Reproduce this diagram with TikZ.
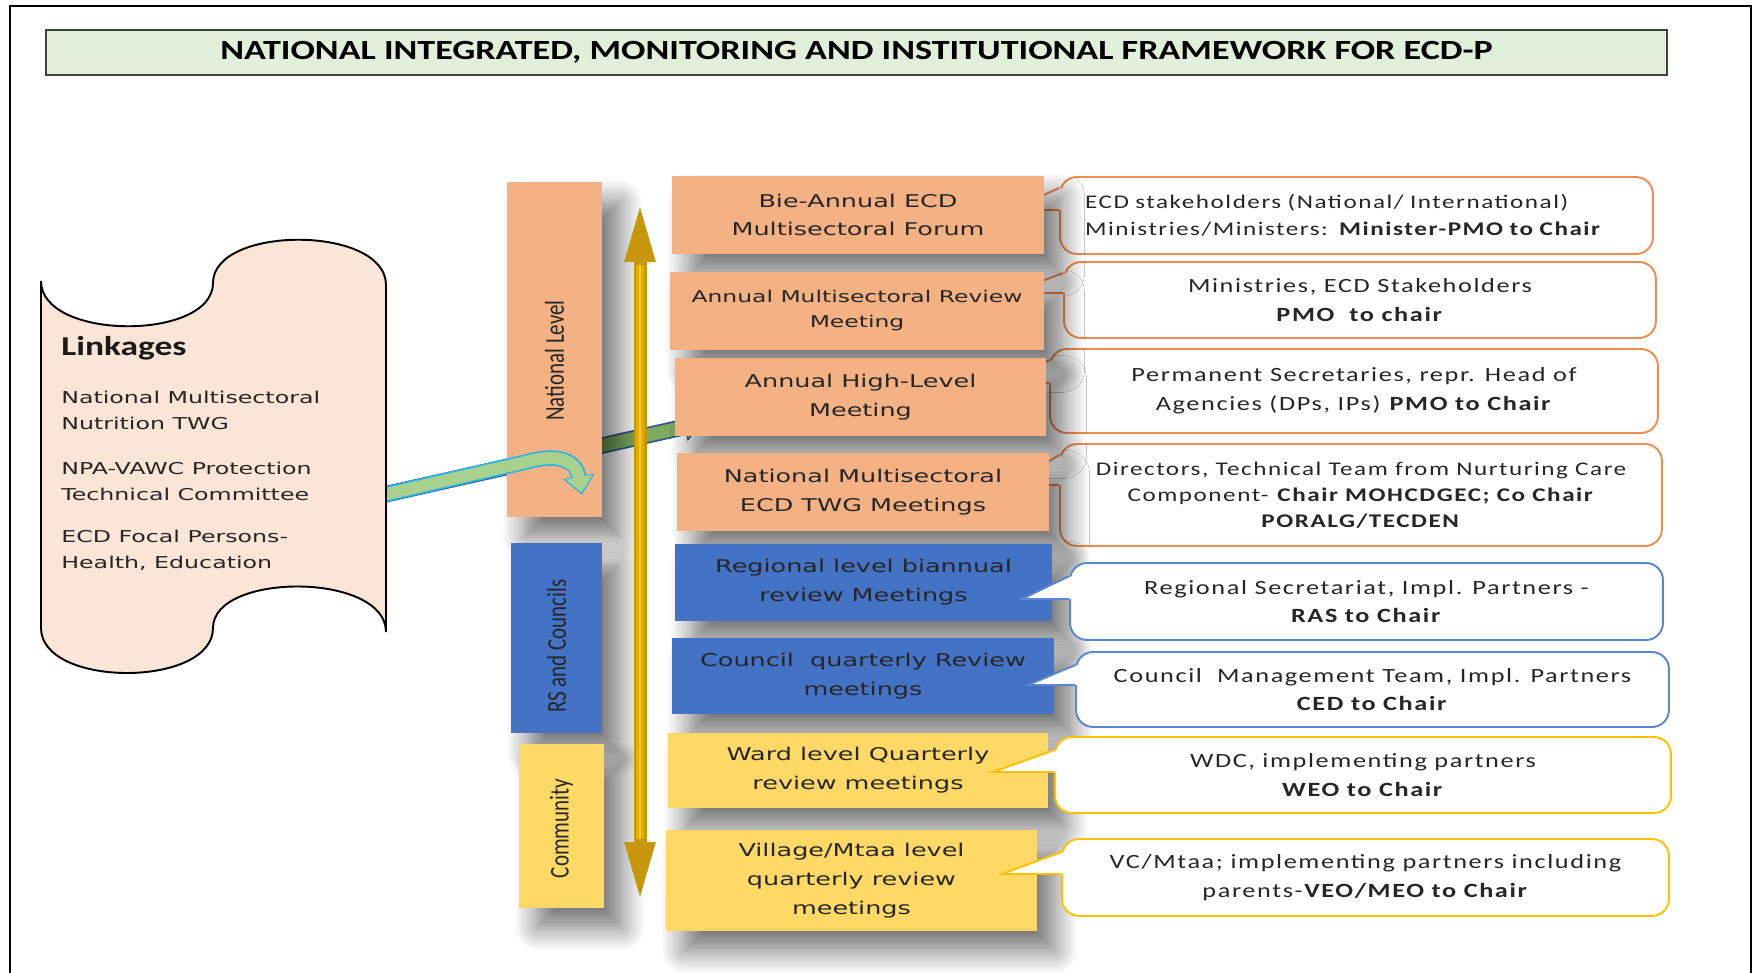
\documentclass[tikz,border=0pt]{standalone}
\usepackage{fontspec}
\usetikzlibrary{arrows.meta,calc,shadows.blur}

\newfontfamily\boxfont[FakeStretch=1.45]{DejaVu Sans}
\newfontfamily\callfont[FakeStretch=1.3,LetterSpace=8]{Carlito}
\newfontfamily\headfont[FakeStretch=1.3]{Carlito}
\newfontfamily\barfont[FakeStretch=0.77]{Carlito}

\definecolor{salmon}{HTML}{F4B183}
\definecolor{levelblue}{HTML}{4472C4}
\definecolor{levelyellow}{HTML}{FFD966}
\definecolor{linkfill}{HTML}{FBE5D6}
\definecolor{titlefill}{HTML}{E2EFDA}
\definecolor{callorange}{HTML}{F08C50}
\definecolor{callblue}{HTML}{5B86D0}
\definecolor{callyellow}{HTML}{FFC000}
\definecolor{goldedge}{HTML}{C8960A}
\definecolor{goldmid}{HTML}{E3AE00}
\definecolor{goldlight}{HTML}{F5CB2A}
\definecolor{leafgreen}{HTML}{A9D18E}
\definecolor{darkleaf}{HTML}{7DAA5E}
\definecolor{skyline}{HTML}{2EB5E8}
\definecolor{navyline}{HTML}{2F5597}

\tikzset{
  softshadow/.style={blur shadow={shadow xshift=0.36cm, shadow yshift=-0.4cm,
      shadow blur radius=0.45cm, shadow blur steps=14, shadow opacity=55}},
}

\begin{document}
\begin{tikzpicture}[x=0.02cm, y=-0.02cm,
  titlebox/.style={draw=black!75, line width=1.1pt, fill=titlefill, inner sep=0pt,
    minimum width=32.42cm, minimum height=0.9cm,
    font={\headfont\bfseries\fontsize{15.8}{18}\selectfont}},
  levelbar/.style={inner sep=0pt, softshadow},
  barlabel/.style={rotate=90, inner sep=0pt, text=black!85,
    font={\barfont\fontsize{15.5}{18}\selectfont}},
  meetbox/.style={inner sep=0pt, align=center, minimum height=1.56cm, text=black!85,
    font={\boxfont\fontsize{10}{16.4}\selectfont}, softshadow},
  callbox/.style={draw, fill=white, line width=1.1pt, rounded corners=0.34cm,
    inner sep=0pt, align=center, text=black!85,
    font={\callfont\fontsize{11.5}{16.4}\selectfont}},
  linkitem/.style={anchor=west, inner sep=0pt, align=left, text=black!85,
    font={\boxfont\fontsize{9.3}{14.7}\selectfont}},
]
\useasboundingbox (0,0) rectangle (1754,973);

% page frame and title
\draw[line width=1.5pt] (10,973) -- (10,6) -- (1751,6) -- (1751,973);
\node[titlebox] (title) at (856.5,52.5)
  {NATIONAL INTEGRATED, MONITORING AND INSTITUTIONAL FRAMEWORK FOR ECD-P};

% link arrow to the high level meeting
\coordinate (linkout) at (378,496);
\coordinate (highin) at (702,423);
\draw[line width=0.33cm, navyline, -{Triangle[width=0.56cm,length=0.36cm]}] (linkout) -- (highin);
\draw[line width=0.26cm, darkleaf, -{Triangle[width=0.46cm,length=0.3cm]}, shorten >=0.04cm] (linkout) -- (highin);

% levels
\node[levelbar, fill=salmon, minimum width=1.9cm, minimum height=6.7cm,
  label={[barlabel, xshift=-0.22cm]center:National Level}] (natbar) at (554.5,349.5) {};
\node[levelbar, fill=levelblue, minimum width=1.82cm, minimum height=3.8cm,
  label={[barlabel, xshift=-0.16cm]center:RS and Councils}] (rsbar) at (556.5,638) {};
\node[levelbar, fill=levelyellow, minimum width=1.7cm, minimum height=3.28cm,
  label={[barlabel, xshift=-0.05cm]center:Community}] (combar) at (561.5,826) {};

% u-turn arrow
\coordinate (bendin) at (526,462);
\coordinate (uturntip) at (582,495);
\draw[line width=0.31cm, skyline, -{Triangle[width=0.62cm,length=0.38cm]}]
  (linkout) -- (bendin) .. controls (558,453) and (576,460) .. (uturntip);
\draw[line width=0.24cm, leafgreen, -{Triangle[width=0.52cm,length=0.31cm]}, shorten >=0.05cm]
  (linkout) -- (bendin) .. controls (558,453) and (576,460) .. (uturntip);

% linkages scroll
\draw[fill=linkfill, line width=1.1pt]
  (41,281) .. controls (41,341) and (213,341) .. (213,283)
  .. controls (213,225) and (386,225) .. (386,285) -- (386,632)
  .. controls (386,572) and (213,572) .. (213,628)
  .. controls (213,688) and (41,688) .. (41,628) -- cycle;
\node[anchor=west, inner sep=0pt, text=black!90,
  font={\headfont\bfseries\fontsize{15.5}{18}\selectfont}] (linkhead) at (61,348) {Linkages};
\node[linkitem] (nutrition) at (61,410) {National Multisectoral\\Nutrition TWG};
\node[linkitem] (vawc) at (61,481) {NPA-VAWC Protection\\Technical Committee};
\node[linkitem] (focal) at (61,550) {ECD Focal Persons-\\Health, Education};

% up and down arrow
\coordinate (arrtop) at (640,200);
\coordinate (arrbot) at (640,904);
\draw[line width=0.26cm, goldedge,
  {Triangle[width=0.54cm,length=1.24cm]}-{Triangle[width=0.54cm,length=1.24cm]}] (arrtop) -- (arrbot);
\draw[line width=0.15cm, goldmid, shorten <=1.3cm, shorten >=1.3cm] (arrtop) -- (arrbot);
\draw[line width=0.05cm, goldlight, shorten <=1.3cm, shorten >=1.3cm] (arrtop) -- (arrbot);

% national callouts (behind the meeting boxes)
\node[callbox, draw=callorange, minimum width=11.86cm, minimum height=1.54cm,
  text width=10.86cm, align=left, font={\callfont\fontsize{11}{15.3}\selectfont}] (forumcall) at (1356.5,215.5)
  {ECD stakeholders (National/ International)\\Ministries/Ministers: \textbf{Minister-PMO to Chair}};
\node[callbox, draw=callorange, minimum width=11.84cm, minimum height=1.52cm] (reviewcall) at (1360,300)
  {Ministries, ECD Stakeholders\\\textbf{PMO\ \ to chair}};
\node[callbox, draw=callorange, minimum width=12.16cm, minimum height=1.68cm] (highcall) at (1354,391)
  {Permanent Secretaries, repr. Head of\\Agencies (DPs, IPs) \textbf{PMO to Chair}};
\node[callbox, draw=callorange, minimum width=12.04cm, minimum height=2.04cm,
  font={\callfont\fontsize{11}{14.9}\selectfont}] (twgcall) at (1361,495)
  {Directors, Technical Team from Nurturing Care\\Component- \textbf{Chair MOHCDGEC; Co Chair}\\\textbf{PORALG/TECDEN}};
\coordinate (forumtip) at (1010,210);
\coordinate (reviewtip) at (1010,293);
\coordinate (hightip) at (1010,383);
\coordinate (twgtip) at (1010,485);
\foreach \n/\col in {forum/callorange, review/callorange, high/callorange, twg/callorange}{
  \path ($(\n call.north west)+(0,12)$) coordinate (upbase) (\n tip -| \n call.west) coordinate (lowbase);
  \fill[white] (\n tip) -- ($(upbase)+(3,0)$) -- ($(lowbase)+(3,0)$) -- cycle;
  \draw[\col, line width=1.1pt] (upbase) -- (\n tip) -- (lowbase);
}

% meetings
\node[meetbox, fill=salmon, minimum width=7.44cm] (forum) at (858,215)
  {Bie-Annual ECD\\Multisectoral Forum};
\node[meetbox, fill=salmon, minimum width=7.48cm,
  font={\boxfont\fontsize{9.2}{14.2}\selectfont}] (review) at (857,311)
  {Annual Multisectoral Review\\Meeting};
\node[meetbox, fill=salmon, minimum width=7.42cm] (high) at (860.5,397)
  {Annual High-Level\\Meeting};
\node[meetbox, fill=salmon, minimum width=7.44cm] (twg) at (863,492)
  {National Multisectoral\\ECD TWG Meetings};
\node[meetbox, fill=levelblue, minimum width=7.54cm, minimum height=1.54cm] (regional) at (863.5,582.5)
  {Regional level biannual\\review Meetings};
\node[meetbox, fill=levelblue, minimum width=7.64cm, minimum height=1.52cm] (council) at (863,676)
  {Council\ \ quarterly Review\\meetings};
\node[meetbox, fill=levelyellow, minimum width=7.6cm, minimum height=1.5cm] (ward) at (858,770.5)
  {Ward level Quarterly\\review meetings};
\node[meetbox, fill=levelyellow, minimum width=7.42cm, minimum height=2.02cm] (village) at (851.5,880.5)
  {Village/Mtaa level\\quarterly review\\meetings};

% regional and community callouts (over the meeting boxes)
\node[callbox, draw=callblue, minimum width=11.86cm, minimum height=1.54cm] (regionalcall) at (1366.5,601.5)
  {Regional Secretariat, Impl. Partners -\\\textbf{RAS to Chair}};
\node[callbox, draw=callblue, minimum width=11.86cm, minimum height=1.5cm] (councilcall) at (1372.5,689.5)
  {Council\ \ Management Team, Impl. Partners\\\textbf{CED to Chair}};
\node[callbox, draw=callyellow, minimum width=12.32cm, minimum height=1.52cm] (wardcall) at (1363,775)
  {WDC, implementing partners\\\textbf{WEO to Chair}};
\node[callbox, draw=callyellow, minimum width=12.14cm, minimum height=1.54cm] (villagecall) at (1365.5,877.5)
  {VC/Mtaa; implementing partners including\\parents-\textbf{VEO/MEO to Chair}};
\coordinate (regionaltip) at (1022,599);
\coordinate (counciltip) at (1028,685);
\coordinate (wardtip) at (993,772);
\coordinate (villagetip) at (1002,874);
\foreach \n/\col in {regional/callblue, council/callblue, ward/callyellow, village/callyellow}{
  \path ($(\n call.north west)+(0,14)$) coordinate (upbase) (\n tip -| \n call.west) coordinate (lowbase);
  \fill[white] (\n tip) -- ($(upbase)+(3,0)$) -- ($(lowbase)+(3,0)$) -- cycle;
  \draw[\col, line width=1.1pt] (upbase) -- (\n tip) -- (lowbase);
}
\end{tikzpicture}
\end{document}
